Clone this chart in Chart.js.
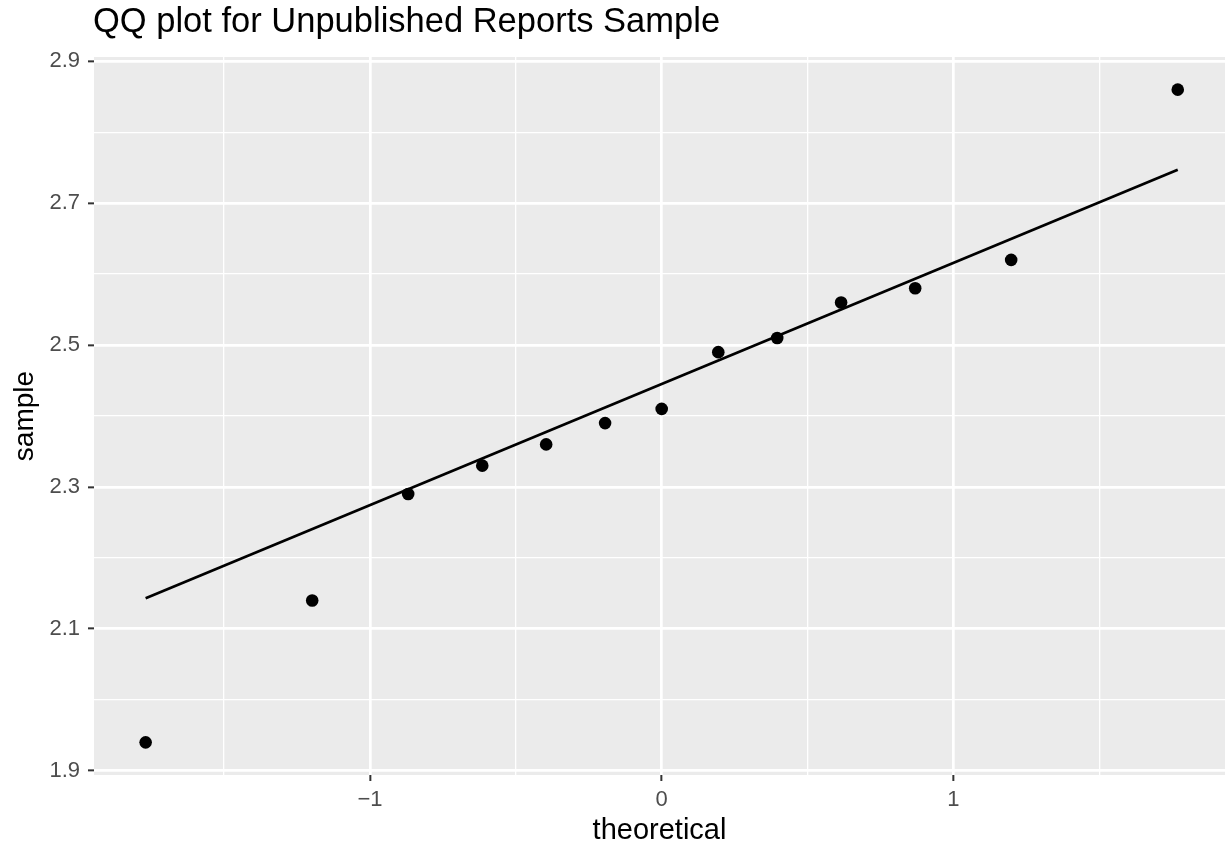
<!DOCTYPE html>
<html>
<head>
<meta charset="utf-8">
<title>QQ plot for Unpublished Reports Sample</title>
<script src="https://cdn.jsdelivr.net/npm/chart.js@4.4.1/dist/chart.umd.min.js"></script>
<style>
    html, body { margin: 0; padding: 0; background: #ffffff; }
    #qq-chart { display: block; }
</style>
</head>
<body>
<canvas id="qq-chart" width="1225" height="847"></canvas>
<script>
// Data
const theoretical = [-1.769, -1.198, -0.869, -0.615, -0.396, -0.194, 0, 0.194, 0.396, 0.615, 0.869, 1.198, 1.769];
const sample = [1.94, 2.14, 2.29, 2.33, 2.36, 2.39, 2.41, 2.49, 2.51, 2.56, 2.58, 2.62, 2.86];

// Reference line end points
const lineX = [-1.769, 1.769];
const lineY = [2.143, 2.747];

// Axis ticks
const xMajorTicks = [-1, 0, 1];
const xMinorTicks = [-1.5, -0.5, 0.5, 1.5];
const xTickLabels = ['\u22121', '0', '1'];
const yMajorTicks = [1.9, 2.1, 2.3, 2.5, 2.7, 2.9];
const yMinorTicks = [2.0, 2.2, 2.4, 2.6, 2.8];
const yTickLabels = ['1.9', '2.1', '2.3', '2.5', '2.7', '2.9'];

const chartTitle = 'QQ plot for Unpublished Reports Sample';
const xTitle = 'theoretical';
const yTitle = 'sample';

const FONT = '"Liberation Sans", Arial, Helvetica, sans-serif';

function isMajor(list, v) {
    return list.some(m => Math.abs(m - v) < 1e-9);
}

function tickLabel(majors, labels, v) {
    const i = majors.findIndex(m => Math.abs(m - v) < 1e-9);
    return i >= 0 ? labels[i] : '';
}

const panelPlugin = {
    id: 'panel',
    beforeDraw(chart) {
        const { ctx, chartArea: a } = chart;
        ctx.save();
        ctx.fillStyle = '#ffffff';
        ctx.fillRect(0, 0, chart.width, chart.height);
        ctx.fillStyle = '#EBEBEB';
        ctx.fillRect(a.left, a.top, a.right - a.left, a.bottom - a.top);
        ctx.restore();
    },
    afterDraw(chart) {
        const { ctx, chartArea: a } = chart;
        ctx.save();
        ctx.fillStyle = '#000000';
        ctx.textBaseline = 'alphabetic';

        ctx.font = '34.5px ' + FONT;
        ctx.textAlign = 'left';
        ctx.fillText(chartTitle, 93, 32);

        ctx.font = '29px ' + FONT;
        ctx.textAlign = 'center';
        ctx.fillText(xTitle, (a.left + a.right) / 2, 839);

        ctx.font = '28px ' + FONT;
        ctx.translate(33, (a.top + a.bottom) / 2);
        ctx.rotate(-Math.PI / 2);
        ctx.fillText(yTitle, 0, 0);
        ctx.restore();
    }
};

function gridStyle(majors) {
    return {
        color: '#ffffff',
        lineWidth: ctx => isMajor(majors, ctx.tick.value) ? 2.7 : 1.3,
        drawTicks: true,
        tickLength: 6,
        tickColor: ctx => isMajor(majors, ctx.tick.value) ? '#333333' : 'rgba(0,0,0,0)',
        tickWidth: 2
    };
}

const ctx = document.getElementById('qq-chart').getContext('2d');
const chart = new Chart(ctx, {
    type: 'scatter',
    data: {
        datasets: [
            {
                label: 'line',
                data: lineX.map((x, i) => ({ x: x, y: lineY[i] })),
                showLine: true,
                borderColor: '#000000',
                borderWidth: 2.7,
                pointRadius: 0,
                order: 0
            },
            {
                label: 'sample',
                data: theoretical.map((x, i) => ({ x: x, y: sample[i] })),
                backgroundColor: '#000000',
                borderColor: '#000000',
                borderWidth: 0,
                pointRadius: 6.3,
                order: 1
            }
        ]
    },
    options: {
        responsive: false,
        devicePixelRatio: 1,
        animation: false,
        layout: {
            autoPadding: false,
            padding: { top: 57, left: 0, right: 0, bottom: 0 }
        },
        plugins: {
            legend: { display: false },
            title: { display: false },
            tooltip: { enabled: false }
        },
        scales: {
            x: {
                type: 'linear',
                min: -1.946,
                max: 1.931,
                border: { display: false },
                grid: gridStyle(xMajorTicks),
                afterBuildTicks: scale => {
                    scale.ticks = xMajorTicks.concat(xMinorTicks).sort((a, b) => a - b).map(v => ({ value: v }));
                },
                afterFit: scale => {
                    scale.height = 72;
                    scale.paddingLeft = 0;
                    scale.paddingRight = 0;
                },
                ticks: {
                    padding: 6,
                    color: '#4D4D4D',
                    font: { family: FONT, size: 22 },
                    maxRotation: 0,
                    autoSkip: false,
                    callback: v => tickLabel(xMajorTicks, xTickLabels, v)
                }
            },
            y: {
                type: 'linear',
                min: 1.894,
                max: 2.906,
                border: { display: false },
                grid: gridStyle(yMajorTicks),
                afterBuildTicks: scale => {
                    scale.ticks = yMajorTicks.concat(yMinorTicks).sort((a, b) => a - b).map(v => ({ value: v }));
                },
                afterFit: scale => {
                    scale.width = 94;
                    scale.paddingTop = 0;
                    scale.paddingBottom = 0;
                },
                ticks: {
                    padding: 8,
                    color: '#4D4D4D',
                    font: { family: FONT, size: 22 },
                    autoSkip: false,
                    callback: v => tickLabel(yMajorTicks, yTickLabels, v)
                }
            }
        }
    },
    plugins: [panelPlugin]
});
</script>
</body>
</html>
